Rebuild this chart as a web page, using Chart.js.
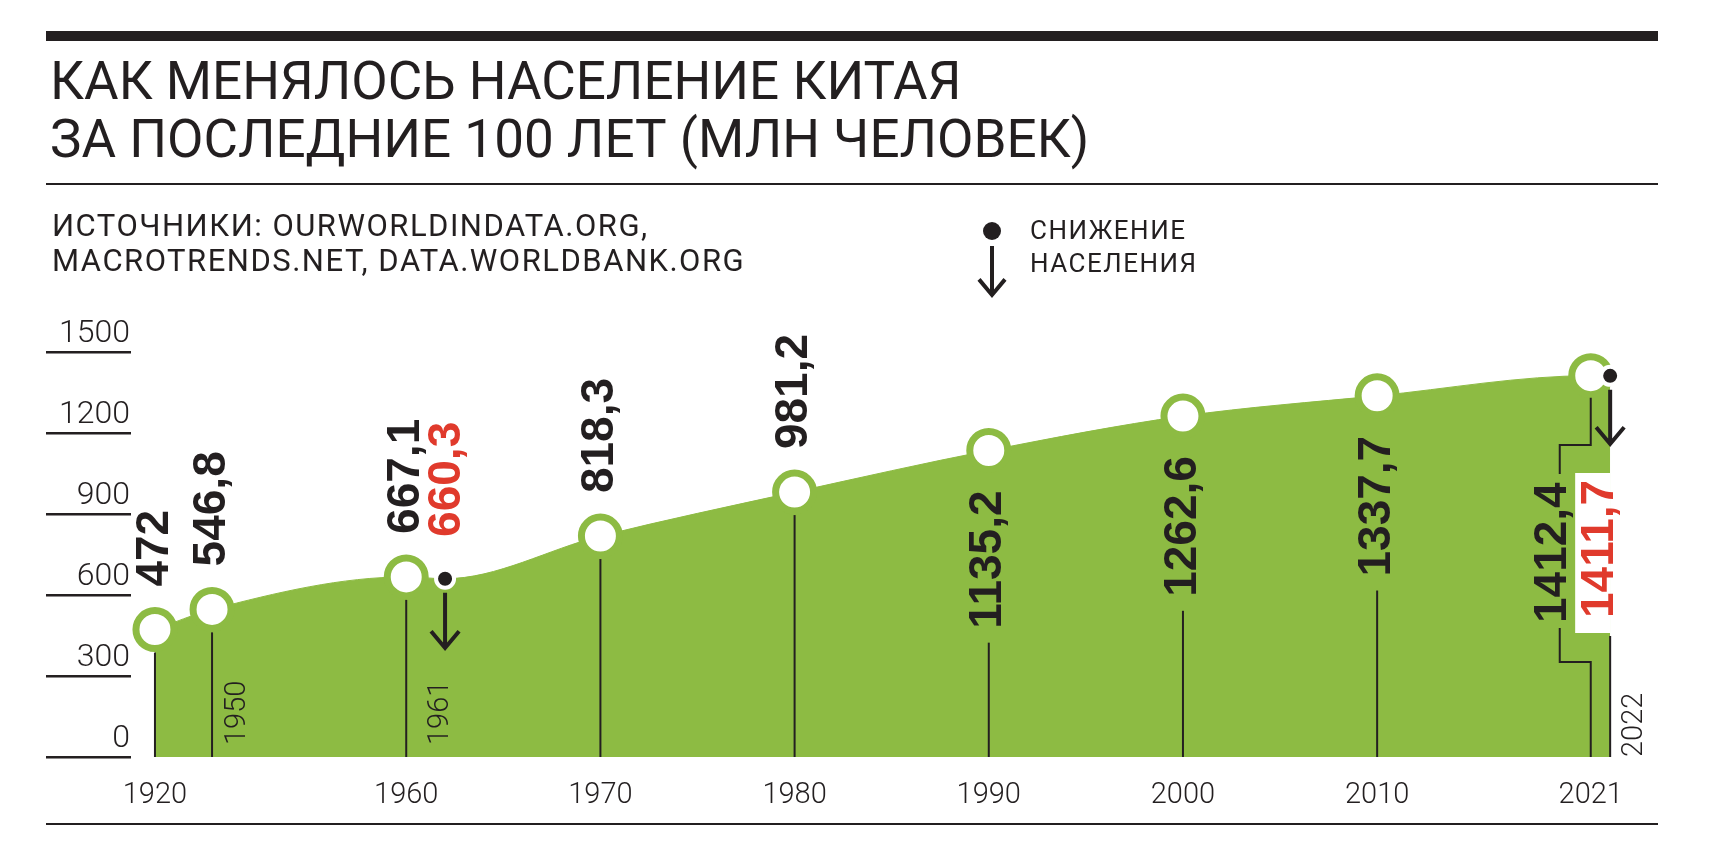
<!DOCTYPE html>
<html>
<head>
<meta charset="utf-8">
<script src="https://cdn.jsdelivr.net/npm/chart.js@4.4.1/dist/chart.umd.min.js"></script>
<style>
  html, body { margin: 0; padding: 0; background: #fff; }
  #wrap { position: relative; width: 1709px; height: 858px; }
</style>
</head>
<body>
<div id="wrap"><canvas id="chart"></canvas></div>
<script>
/* ===================== DATA ===================== */
const years = [1920, 1950, 1960, 1961, 1970, 1980, 1990, 2000, 2010, 2021, 2022];
const population = [472, 546.8, 667.1, 660.3, 818.3, 981.2, 1135.2, 1262.6, 1337.7, 1412.4, 1411.7];
const valueLabels = ["472", "546,8", "667,1", "660,3", "818,3", "981,2", "1135,2", "1262,6", "1337,7", "1412,4", "1411,7"];
const isDecline = [false, false, false, true, false, false, false, false, false, false, true];
const labelSide = ["above", "above", "above", "above", "above", "above", "below", "below", "below", "below", "below"];
const xTickYears = [1920, 1960, 1970, 1980, 1990, 2000, 2010, 2021];
const smallYearLabels = [1950, 1961, 2022];
const yTicks = [0, 300, 600, 900, 1200, 1500];

const titleLines = ["КАК МЕНЯЛОСЬ НАСЕЛЕНИЕ КИТАЯ", "ЗА ПОСЛЕДНИЕ 100 ЛЕТ (МЛН ЧЕЛОВЕК)"];
const sourceLines = ["ИСТОЧНИКИ: OURWORLDINDATA.ORG,", "MACROTRENDS.NET, DATA.WORLDBANK.ORG"];
const legendLines = ["СНИЖЕНИЕ", "НАСЕЛЕНИЯ"];

/* ===================== STYLE ===================== */
const GREEN = "#8dbb43";
const DARK = "#231f20";
const RED = "#e03a2c";
const THIN = "Roboto, 'Liberation Sans', sans-serif";
const BOLD = "'Liberation Sans', Arial, sans-serif";

// the axis is compressed before 1950; 1961 is pushed right so it clears 1960
function axisPos(year) {
  if (year === 1961) return 1962;
  return year >= 1950 ? year : 1950 - (1950 - year) * 0.098;
}

/* ===================== HELPERS ===================== */
function arrow(ctx, x, y1, y2, w) {
  ctx.save();
  ctx.strokeStyle = DARK;
  ctx.lineWidth = 4;
  ctx.beginPath();
  ctx.moveTo(x, y1);
  ctx.lineTo(x, y2);
  ctx.moveTo(x - w, y2 - w * 1.2);
  ctx.lineTo(x, y2);
  ctx.lineTo(x + w, y2 - w * 1.2);
  ctx.stroke();
  ctx.restore();
}

function vText(ctx, text, x, yBottom, font, color) {
  ctx.save();
  ctx.translate(x, yBottom);
  ctx.rotate(-Math.PI / 2);
  ctx.font = font;
  ctx.fillStyle = color;
  ctx.textAlign = "left";
  ctx.textBaseline = "middle";
  ctx.fillText(text, 0, 0);
  ctx.restore();
}

function vLine(ctx, x, y1, y2) {
  ctx.beginPath();
  ctx.moveTo(x, y1);
  ctx.lineTo(x, y2);
  ctx.stroke();
}

/* ===================== DECOR PLUGIN ===================== */
const decor = {
  id: "decor",
  beforeDatasetsDraw(chart) {
    const ctx = chart.ctx;
    const x = chart.scales.x, y = chart.scales.y;
    ctx.save();
    ctx.fillStyle = DARK;
    // header rules
    ctx.fillRect(46, 31, 1612, 10);
    ctx.fillRect(46, 183, 1612, 2);
    ctx.fillRect(46, 823, 1612, 2);

    ctx.textBaseline = "middle";
    ctx.font = "400 53px " + THIN;
    ctx.fillText(titleLines[0], 50, 86);
    ctx.fillText(titleLines[1], 50, 144);

    ctx.font = "400 31px " + THIN;
    ctx.letterSpacing = "1.5px";
    ctx.fillText(sourceLines[0], 52, 228);
    ctx.fillText(sourceLines[1], 52, 263);
    ctx.font = "400 26px " + THIN;
    ctx.fillText(legendLines[0], 1030, 232);
    ctx.fillText(legendLines[1], 1030, 265);
    ctx.letterSpacing = "0px";

    // y ticks
    ctx.font = "300 32px " + THIN;
    ctx.textAlign = "right";
    ctx.textBaseline = "alphabetic";
    yTicks.forEach(v => {
      const py = y.getPixelForValue(v);
      ctx.fillRect(46, py - 1, 85, 2.5);
      ctx.fillText(String(v), 130, py - 10);
    });

    // x ticks
    ctx.font = "300 29px " + THIN;
    ctx.textAlign = "center";
    ctx.textBaseline = "middle";
    xTickYears.forEach(yr => ctx.fillText(String(yr), x.getPixelForValue(axisPos(yr)), 796));
    ctx.restore();
  },
  afterDatasetsDraw(chart) {
    const ctx = chart.ctx;
    const x = chart.scales.x, y = chart.scales.y;
    const base = y.getPixelForValue(0);
    ctx.save();
    ctx.strokeStyle = DARK;
    ctx.lineWidth = 2;

    years.forEach((yr, i) => {
      const px = x.getPixelForValue(axisPos(yr));
      const py = y.getPixelForValue(population[i]);
      const color = isDecline[i] ? RED : DARK;
      const font = "bold 46px " + BOLD;
      if (yr === 2021) {
        // bracketed drop line beside the 2022 box
        const lx = px - 31;
        ctx.beginPath();
        ctx.moveTo(px, py + 22); ctx.lineTo(px, 445); ctx.lineTo(lx, 445); ctx.lineTo(lx, 474);
        ctx.moveTo(lx, 628); ctx.lineTo(lx, 662); ctx.lineTo(px, 662); ctx.lineTo(px, base);
        ctx.stroke();
        vText(ctx, valueLabels[i], lx - 6, 623, font, color);
        return;
      }
      if (yr === 2022) {
        ctx.fillStyle = "#fff";
        ctx.fillRect(px - 35, 473, 35, 160);
        vLine(ctx, px, 636, base);
        vText(ctx, valueLabels[i], px - 10, 618, font, color);
        arrow(ctx, px, py + 14, 444, 14);
        return;
      }
      if (isDecline[i]) {
        vText(ctx, valueLabels[i], px + 2, y.getPixelForValue(population[i - 1]) - 40, font, color);
        arrow(ctx, px, py + 14, 648, 14);
        return;
      }
      if (labelSide[i] === "above") {
        vText(ctx, valueLabels[i], px, py - 43, font, color);
        vLine(ctx, px, py + 23, base);
      } else {
        const top = py + 40;
        ctx.font = font;
        const w = ctx.measureText(valueLabels[i]).width;
        vText(ctx, valueLabels[i], px, top + w, font, color);
        vLine(ctx, px, top + w + 14, base);
      }
    });

    smallYearLabels.forEach(yr => {
      const px = x.getPixelForValue(axisPos(yr));
      vText(ctx, String(yr), px + (yr === 2022 ? 25 : (yr === 1961 ? -4 : 26)), yr === 2022 ? 757 : 745, "300 29px " + THIN, DARK);
    });

    // legend marker
    ctx.fillStyle = DARK;
    ctx.beginPath();
    ctx.arc(992, 231, 9, 0, Math.PI * 2);
    ctx.fill();
    arrow(ctx, 992, 246, 295, 13);
    ctx.restore();
  }
};

/* ===================== CHART ===================== */
new Chart(document.getElementById("chart"), {
  type: "line",
  data: {
    datasets: [{
      data: years.map((yr, i) => ({ x: axisPos(yr), y: population[i] })),
      fill: "origin",
      backgroundColor: GREEN,
      borderColor: GREEN,
      borderWidth: 1,
      cubicInterpolationMode: "monotone",
      pointRadius: isDecline.map(d => d ? 9 : 19),
      pointBorderWidth: isDecline.map(d => d ? 4 : 7),
      pointBackgroundColor: isDecline.map(d => d ? DARK : "#fff"),
      pointBorderColor: isDecline.map(d => d ? "#fff" : GREEN),
      clip: false
    }]
  },
  options: {
    responsive: true,
    maintainAspectRatio: false,
    animation: false,
    layout: { padding: 0, autoPadding: false },
    plugins: { legend: { display: false }, tooltip: { enabled: false } },
    scales: {
      x: { type: "linear", display: false, min: 1939.08, max: 2027.09 },
      y: { display: false, min: -374, max: 2803.7 }
    }
  },
  plugins: [decor]
});
</script>
</body>
</html>
